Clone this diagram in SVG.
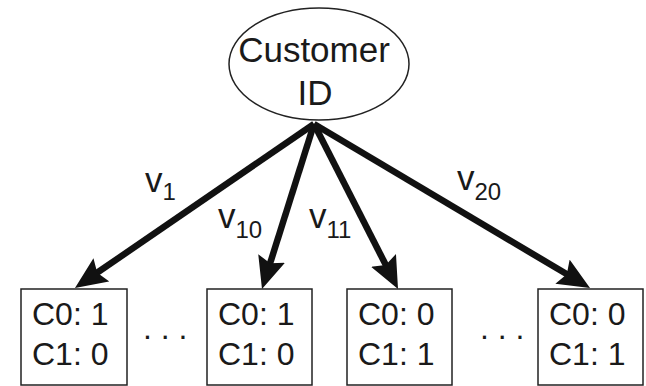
<svg xmlns="http://www.w3.org/2000/svg" width="646" height="386" viewBox="0 0 646 386">
<defs>
<style>
.t{font-family:"Liberation Sans",Arial,sans-serif;fill:#1a1a1a}
.big{font-size:35px}
.box{font-size:32px}
.sub{font-size:24px}
.n{fill:#fff;stroke:#222;stroke-width:1.5}
.e{stroke:#111;stroke-width:6.5;fill:none;marker-end:url(#ah)}
</style>
<marker id="ah" markerUnits="userSpaceOnUse" markerWidth="34" markerHeight="30" refX="15" refY="14" orient="auto">
<path d="M0,0 L32,14 L0,28 L5,14 z" fill="#111"/>
</marker>
</defs>
<rect width="646" height="386" fill="#fff"/>
<g id="root">
<ellipse class="n" cx="319" cy="64" rx="90" ry="56"/>
<text class="t big" x="314" y="62" text-anchor="middle">Customer</text>
<text class="t big" x="315" y="105" text-anchor="middle">ID</text>
</g>
<g id="connectors">
<line class="e" x1="314" y1="124" x2="89" y2="278.3"/>
<line class="e" x1="314" y1="124" x2="267.1" y2="272.8"/>
<line class="e" x1="314" y1="124" x2="390.3" y2="273.8"/>
<line class="e" x1="314" y1="124" x2="575.4" y2="279.3"/>
<text class="t big" x="145" y="192">v<tspan class="sub" dy="8">1</tspan></text>
<text class="t big" x="218" y="228">v<tspan class="sub" dy="10">10</tspan></text>
<text class="t big" x="309" y="228">v<tspan class="sub" dy="10">11</tspan></text>
<text class="t big" x="457" y="190">v<tspan class="sub" dy="10">20</tspan></text>
</g>
<g id="leaf1">
<rect class="n" x="21" y="289" width="106" height="96"/>
<text class="t box" x="32" y="325">C0: 1</text>
<text class="t box" x="32" y="365">C1: 0</text>
</g>
<g id="dots1"><text class="t box" x="143" y="339">. . .</text></g>
<g id="leaf10">
<rect class="n" x="207" y="289" width="105" height="96"/>
<text class="t box" x="218" y="325">C0: 1</text>
<text class="t box" x="218" y="365">C1: 0</text>
</g>
<g id="leaf11">
<rect class="n" x="347" y="289" width="105" height="96"/>
<text class="t box" x="358" y="325">C0: 0</text>
<text class="t box" x="358" y="365">C1: 1</text>
</g>
<g id="dots2"><text class="t box" x="480" y="339">. . .</text></g>
<g id="leaf20">
<rect class="n" x="538" y="289" width="105" height="96"/>
<text class="t box" x="549" y="325">C0: 0</text>
<text class="t box" x="549" y="365">C1: 1</text>
</g>
</svg>
